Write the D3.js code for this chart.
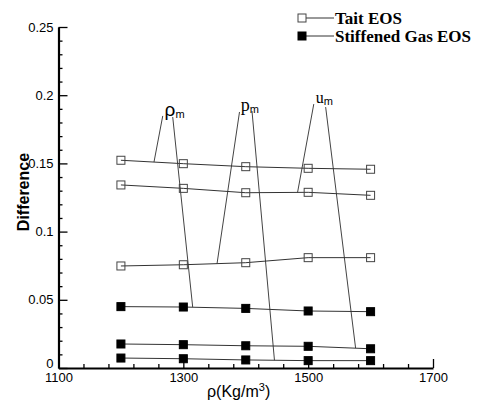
<!DOCTYPE html>
<html>
<head>
<meta charset="utf-8">
<script src="https://cdn.jsdelivr.net/npm/d3@7"></script>
<style>
  body { margin: 0; background: #fff; }
  svg { display: block; }
  .tick text { font-family: Arial, "Liberation Sans", sans-serif; font-size: 13px; fill: #000; }
</style>
</head>
<body>
<div id="chart"></div>
<script>
// density values (x)
const densities = [1200, 1300, 1400, 1500, 1600];

// Tait EOS (open squares): rho_m, u_m, p_m differences
const taitRho = [0.1523, 0.1498, 0.1476, 0.1464, 0.1457];
const taitU   = [0.1342, 0.1317, 0.1285, 0.1288, 0.1266];
const taitP   = [0.0748, 0.0757, 0.0772, 0.0809, 0.0809];

// Stiffened Gas EOS (filled squares)
const sgRho = [0.0450, 0.0447, 0.0437, 0.0418, 0.0413];
const sgU   = [0.0176, 0.0171, 0.0163, 0.0159, 0.0141];
const sgP   = [0.0073, 0.0068, 0.0059, 0.0054, 0.0054];

const xTicks = [1100, 1300, 1500, 1700];
const yTicks = [0, 0.05, 0.1, 0.15, 0.2, 0.25];

// annotation labels and their two leader lines, in data units
const annotations = [
  { main: "\u03c1", sub: "m", font: "Arial, sans-serif", size: 19, at: [1270, 0.1848],
    leaders: [[[1267, 0.1848], [1253, 0.1510]], [[1283, 0.1840], [1315, 0.0446]]] },
  { main: "p", sub: "m", font: "'Liberation Serif', serif", size: 18, at: [1392, 0.1885],
    leaders: [[[1390, 0.1877], [1354, 0.0765]], [[1410, 0.1884], [1446, 0.0057]]] },
  { main: "u", sub: "m", font: "'Liberation Serif', serif", size: 16, at: [1512, 0.1943],
    leaders: [[[1509, 0.1935], [1483, 0.1287]], [[1528, 0.1913], [1576, 0.0146]]] }
];

const width = 481, height = 403;
const svg = d3.select("#chart").append("svg")
  .attr("width", width)
  .attr("height", height);

const x = d3.scaleLinear().domain([1100, 1700]).range([58.5, 433]);
const y = d3.scaleLinear().domain([0, 0.25]).range([368, 27]);

// axes, ticks pointing inward
const xMinor = d3.range(1100, 1701, 40).filter(v => !xTicks.includes(v));
const yMinor = d3.range(0, 0.2501, 0.01).map(v => +v.toFixed(2)).filter(v => !yTicks.includes(v));

const xAxisG = svg.append("g").attr("transform", `translate(0,${y(0)})`);
xAxisG.append("g")
  .call(d3.axisBottom(x).tickValues(xMinor).tickSize(-4).tickSizeOuter(0).tickFormat(""))
  .call(g => g.select(".domain").remove());
xAxisG.append("g")
  .call(d3.axisBottom(x).tickValues(xTicks).tickSize(-9).tickSizeOuter(0).tickPadding(5)
    .tickFormat(d3.format("d")))
  .call(g => g.select(".domain").attr("stroke-width", 2.2));
xAxisG.selectAll(".tick line").attr("stroke-width", 1.3);

const yAxisG = svg.append("g").attr("transform", `translate(${x(1100)},0)`);
yAxisG.append("g")
  .call(d3.axisLeft(y).tickValues(yMinor).tickSize(-4).tickSizeOuter(0).tickFormat(""))
  .call(g => g.select(".domain").remove());
yAxisG.append("g")
  .call(d3.axisLeft(y).tickValues(yTicks).tickSize(-9).tickSizeOuter(0).tickPadding(5)
    .tickFormat(d => d === 0 ? "0" : String(d)))
  .call(g => g.select(".domain").attr("stroke-width", 2.2));
yAxisG.selectAll(".tick line").attr("stroke-width", 1.3);
// "0" label sits just above the 1100 label
yAxisG.selectAll(".tick text").filter(d => d === 0).attr("dy", "-0.05em");

// axis titles
svg.append("text")
  .attr("transform", `translate(29,${y(0.129)}) rotate(-90)`)
  .attr("text-anchor", "middle")
  .attr("font-family", "Arial, 'Liberation Sans', sans-serif")
  .attr("font-weight", "bold")
  .attr("font-size", 16)
  .text("Difference");

const xTitle = svg.append("text")
  .attr("x", 207)
  .attr("y", 397)
  .attr("font-family", "Arial, 'Liberation Sans', sans-serif")
  .attr("font-size", 16);
xTitle.append("tspan").text("\u03c1(Kg/m");
xTitle.append("tspan").attr("dy", -6).attr("font-size", 11).text("3");
xTitle.append("tspan").attr("dy", 6).text(")");

// leader lines
const line = d3.line().x(d => x(d[0])).y(d => y(d[1]));
annotations.forEach(a => {
  a.leaders.forEach(l => {
    svg.append("path").attr("d", line(l))
      .attr("fill", "none").attr("stroke", "#444").attr("stroke-width", 1);
  });
  const t = svg.append("text")
    .attr("x", x(a.at[0]))
    .attr("y", y(a.at[1]))
    .attr("font-family", a.font)
    .attr("font-size", a.size);
  t.append("tspan").text(a.main);
  t.append("tspan").attr("dy", 2).attr("font-family", "Arial, sans-serif")
    .attr("font-size", 11).text(a.sub);
});

// series
const series = [
  { vals: taitRho, filled: false }, { vals: taitU, filled: false }, { vals: taitP, filled: false },
  { vals: sgRho, filled: true }, { vals: sgU, filled: true }, { vals: sgP, filled: true }
];
const sq = 8;
series.forEach(s => {
  const pts = densities.map((d, i) => [d, s.vals[i]]);
  svg.append("path").attr("d", line(pts))
    .attr("fill", "none").attr("stroke", "#333").attr("stroke-width", 1);
  svg.selectAll(null).data(pts).enter().append("rect")
    .attr("x", d => x(d[0]) - sq / 2)
    .attr("y", d => y(d[1]) - sq / 2)
    .attr("width", sq).attr("height", sq)
    .attr("fill", s.filled ? "#000" : "none")
    .attr("stroke", s.filled ? "#000" : "#444")
    .attr("stroke-width", 1);
});

// legend
const legend = [
  { label: "Tait EOS", filled: false, yPos: 18 },
  { label: "Stiffened Gas EOS", filled: true, yPos: 36 }
];
legend.forEach(l => {
  svg.append("line").attr("x1", 302).attr("x2", 334)
    .attr("y1", l.yPos).attr("y2", l.yPos).attr("stroke", "#333");
  svg.append("rect").attr("x", 298).attr("y", l.yPos - 4).attr("width", 8).attr("height", 8)
    .attr("fill", l.filled ? "#000" : "#fff").attr("stroke", l.filled ? "#000" : "#444");
  svg.append("text").attr("x", 335).attr("y", l.yPos + 5.5)
    .attr("font-family", "'Liberation Serif', 'Times New Roman', serif")
    .attr("font-weight", "bold").attr("font-size", 17)
    .text(l.label);
});
</script>
</body>
</html>
